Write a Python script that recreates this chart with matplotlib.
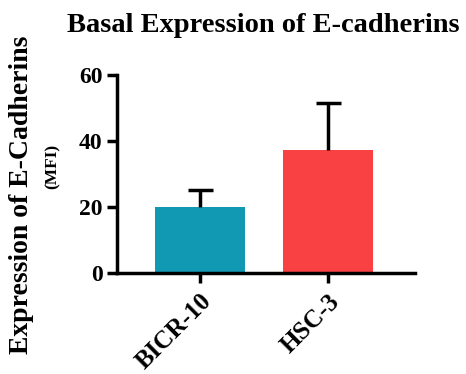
import matplotlib
matplotlib.use("Agg")
import matplotlib.pyplot as plt

# data
cell_lines = ["BICR-10", "HSC-3"]
mfi_mean = [20.1, 37.3]
mfi_err = [5.1, 14.1]
bar_colors = ["#1199b4", "#f94144"]

plt.rcParams["font.family"] = ["Liberation Serif"]
plt.rcParams["font.weight"] = "bold"

fig = plt.figure(figsize=(4.66, 3.74), dpi=100)
ax = fig.add_axes([0.251, 0.270, 0.640, 0.5295])

x = range(len(cell_lines))
ax.bar(x, mfi_mean, width=0.7, color=bar_colors, zorder=2)
# only upper error bars, hide the lower caps
_, caps, _ = ax.errorbar(x, mfi_mean, yerr=[[0, 0], mfi_err], fmt="none",
                         ecolor="black", elinewidth=2.5, capsize=9,
                         capthick=2.5, zorder=3)
caps[0].set_visible(False)

ax.set_xlim(-0.65, 1.68)
ax.set_ylim(0, 60)
ax.set_yticks([0, 20, 40, 60])
ax.set_xticks(list(x))
ax.set_xticklabels(cell_lines, rotation=45, ha="right", rotation_mode="anchor",
                   fontsize=18, fontweight="bold")
ax.tick_params(axis="y", labelsize=17, width=2.5, length=7, direction="out")
ax.tick_params(axis="x", width=2.5, length=7, direction="out", pad=5)
for lab in ax.get_yticklabels():
    lab.set_fontweight("bold")

ax.spines["top"].set_visible(False)
ax.spines["right"].set_visible(False)
ax.spines["left"].set_linewidth(2.5)
ax.spines["bottom"].set_linewidth(2.5)

fig.text(0.566, 0.932, "Basal Expression of E-cadherins", ha="center", va="center",
         fontsize=20.5, fontweight="bold")
fig.text(0.047, 0.479, "Expression of E-Cadherins", rotation=90, ha="center",
         va="center", fontsize=20, fontweight="bold")
fig.text(0.112, 0.556, "(MFI)", rotation=90, ha="center", va="center",
         fontsize=12.5, fontweight="bold")

fig.savefig("out.png", dpi=100)
